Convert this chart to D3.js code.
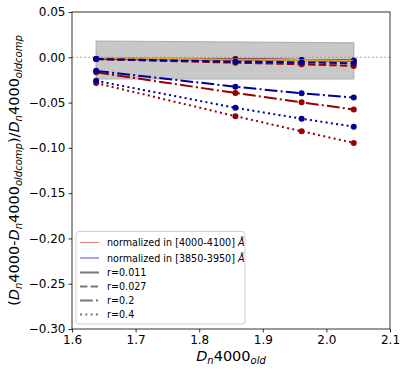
<!DOCTYPE html>
<html>
<head>
<meta charset="utf-8">
<script src="https://cdn.jsdelivr.net/npm/d3@7"></script>
<style>
  body { margin: 0; background: #fff; }
  text { font-family: "DejaVu Sans", sans-serif; fill: #000; }
</style>
</head>
<body>
<div class="canvas"></div>
<script>
// x positions of the four models
const dnOld = [1.638, 1.857, 1.961, 2.043];

// red = normalized in [4000-4100], blue = normalized in [3850-3950]
const red011 = [-0.0015, -0.002, -0.003, -0.004];
const blue011 = [-0.002, -0.0025, -0.003, -0.0035];
const gold011 = [-0.0012, -0.0025, -0.003, -0.0038];
const red027 = [-0.002, -0.006, -0.0077, -0.0095];
const blue027 = [-0.002, -0.0048, -0.0055, -0.0066];
const red02 = [-0.0166, -0.0394, -0.0497, -0.0577];
const blue02 = [-0.015, -0.0325, -0.0398, -0.0445];
const red04 = [-0.0285, -0.065, -0.0817, -0.0945];
const blue04 = [-0.026, -0.0558, -0.0678, -0.0766];

// grey uncertainty band (top edge, bottom edge)
const bandTop = [0.018, 0.016];
const bandBottom = [-0.024, -0.024];

const xTicks = [1.6, 1.7, 1.8, 1.9, 2.0, 2.1];
const yTicks = [0.05, 0, -0.05, -0.10, -0.15, -0.20, -0.25, -0.30];
const legendLabels = ['r=0.011', 'r=0.027', 'r=0.2', 'r=0.4'];

const W = 407, H = 374;
const mLeft = 72, mRight = 390, mTop = 12, mBottom = 329;

const svg = d3.select('.canvas').append('svg')
    .attr('width', W)
    .attr('height', H);

const x = d3.scaleLinear().domain([1.6, 2.1]).range([mLeft, mRight]);
const y = d3.scaleLinear().domain([-0.30, 0.05]).range([mBottom, mTop]);

const fmtY = v => d3.format('.2f')(v).replace('-', '\u2212');

// band
const bandX = [dnOld[0], dnOld[3]];
const bandPts = [
    [bandX[0], bandTop[0]], [bandX[1], bandTop[1]],
    [bandX[1], bandBottom[1]], [bandX[0], bandBottom[0]]
];
svg.append('polygon')
    .attr('points', bandPts.map(p => [x(p[0]), y(p[1])].join(',')).join(' '))
    .attr('fill', '#c8c8c8')
    .attr('stroke', '#b0b0b0')
    .attr('stroke-width', 1.2);

// zero line
svg.append('line')
    .attr('x1', mLeft).attr('x2', mRight)
    .attr('y1', y(0)).attr('y2', y(0))
    .attr('stroke', '#999')
    .attr('stroke-width', 0.8)
    .attr('stroke-dasharray', '2,2');

const RED = '#990000', BLUE = '#000099';
const dash = {
    solid: null,
    dashed: '7.4,3.2',
    dashdot: '12.8,3.2,2,3.2',
    dotted: '2,3.3'
};

const series = [
    { v: red011, c: RED, d: 'solid' },
    { v: blue011, c: BLUE, d: 'solid' },
    { v: gold011, c: '#e0a020', d: 'solid' },
    { v: red027, c: RED, d: 'dashed' },
    { v: blue027, c: BLUE, d: 'dashed' },
    { v: red02, c: RED, d: 'dashdot' },
    { v: blue02, c: BLUE, d: 'dashdot' },
    { v: red04, c: RED, d: 'dotted' },
    { v: blue04, c: BLUE, d: 'dotted' }
];

const line = d3.line().x((d, i) => x(dnOld[i])).y(d => y(d));

series.forEach(s => {
    svg.append('path')
        .attr('d', line(s.v))
        .attr('fill', 'none')
        .attr('stroke', s.c)
        .attr('stroke-width', 2)
        .attr('stroke-dasharray', dash[s.d]);
    if (s.c !== '#e0a020') {
        svg.selectAll(null)
            .data(s.v)
            .enter().append('circle')
            .attr('cx', (d, i) => x(dnOld[i]))
            .attr('cy', d => y(d))
            .attr('r', 3)
            .attr('fill', s.c);
    }
});

// axes
const xAxis = svg.append('g')
    .attr('transform', `translate(0,${mBottom})`)
    .call(d3.axisBottom(x).tickValues(xTicks).tickFormat(d3.format('.1f')).tickSize(3.5).tickPadding(3));
const yAxis = svg.append('g')
    .attr('transform', `translate(${mLeft},0)`)
    .call(d3.axisLeft(y).tickValues(yTicks).tickFormat(fmtY).tickSize(3.5).tickPadding(3));
[xAxis, yAxis].forEach(a => {
    a.select('.domain').remove();
    a.selectAll('text').attr('font-size', 12).attr('font-family', 'DejaVu Sans, sans-serif').attr('fill', '#000');
    a.selectAll('line').attr('stroke', '#000').attr('stroke-width', 0.8);
});

// frame
svg.append('rect')
    .attr('x', mLeft).attr('y', mTop)
    .attr('width', mRight - mLeft).attr('height', mBottom - mTop)
    .attr('fill', 'none')
    .attr('stroke', '#000')
    .attr('stroke-width', 0.8);

// x label
const xl = svg.append('text')
    .attr('x', (mLeft + mRight) / 2)
    .attr('y', 361)
    .attr('text-anchor', 'middle')
    .attr('font-size', 14.5);
xl.append('tspan').attr('font-style', 'italic').text('D');
xl.append('tspan').attr('font-style', 'italic').attr('font-size', 10).attr('dy', 3).text('n');
xl.append('tspan').attr('dy', -3).text('4000');
xl.append('tspan').attr('font-style', 'italic').attr('font-size', 10).attr('dy', 3).text('old');

// y label
const yl = svg.append('text')
    .attr('transform', `translate(19,${(mTop + mBottom) / 2}) rotate(-90)`)
    .attr('text-anchor', 'middle')
    .attr('font-size', 14.5);
const sub = (t) => yl.append('tspan').attr('font-style', 'italic').attr('font-size', 10).attr('dy', 3).text(t);
yl.append('tspan').text('(');
yl.append('tspan').attr('font-style', 'italic').text('D');
sub('n');
yl.append('tspan').attr('dy', -3).text('4000-');
yl.append('tspan').attr('font-style', 'italic').text('D');
sub('n');
yl.append('tspan').attr('dy', -3).text('4000');
sub('oldcomp');
yl.append('tspan').attr('dy', -3).text(')/');
yl.append('tspan').attr('font-style', 'italic').text('D');
sub('n');
yl.append('tspan').attr('dy', -3).text('4000');
sub('oldcomp');

// legend
const lg = svg.append('g');
lg.append('rect')
    .attr('x', 76).attr('y', 231.5)
    .attr('width', 169).attr('height', 92.5)
    .attr('rx', 3)
    .attr('fill', '#fff').attr('fill-opacity', 0.8)
    .attr('stroke', '#d0d0d0');

const legendRows = [
    { label: 'normalized in [4000-4100] ', c: '#e08080', w: 1, d: 'solid', A: true },
    { label: 'normalized in [3850-3950] ', c: '#5050d8', w: 1, d: 'solid', A: true }
].concat(legendLabels.map((l, i) => ({
    label: l, c: '#777', w: 2, d: ['solid', 'dashed', 'dashdot', 'dotted'][i]
})));
const rowY = [242.5, 258, 272.5, 286.5, 300.5, 314.5];

legendRows.forEach((r, i) => {
    const yy = rowY[i];
    lg.append('line')
        .attr('x1', 80).attr('x2', 99)
        .attr('y1', yy).attr('y2', yy)
        .attr('stroke', r.c)
        .attr('stroke-width', r.w)
        .attr('stroke-dasharray', dash[r.d]);
    const t = lg.append('text')
        .attr('x', 107).attr('y', yy + 3.5)
        .attr('font-size', 9.6)
        .text(r.label);
    if (r.A) t.append('tspan').attr('font-style', 'italic').text('\u00c5');
});
</script>
</body>
</html>
